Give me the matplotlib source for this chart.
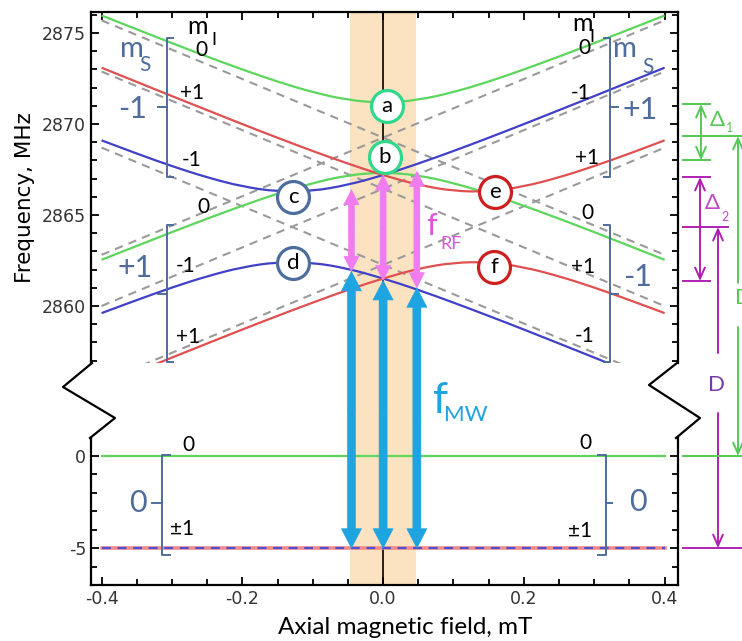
import matplotlib
matplotlib.use("Agg")
import matplotlib.pyplot as plt
import matplotlib.transforms as mtransforms
from matplotlib.lines import Line2D
from matplotlib.patches import FancyArrowPatch, PathPatch, Rectangle
from matplotlib.path import Path
from matplotlib.ticker import MultipleLocator

plt.rcParams["font.family"] = ["Lato", "DejaVu Sans"]
plt.rcParams["axes.unicode_minus"] = False

# ---- data ----
field = [-0.4, -0.35, -0.3, -0.25, -0.2, -0.15, -0.1, -0.05, 0.0,
         0.05, 0.1, 0.15, 0.2, 0.25, 0.3, 0.35, 0.4]
green_up = [2875.96, 2875.20, 2874.44, 2873.70, 2872.99, 2872.32, 2871.74, 2871.31, 2871.15,
            2871.31, 2871.74, 2872.32, 2872.99, 2873.70, 2874.44, 2875.20, 2875.96]
green_lo = [2862.54, 2863.30, 2864.06, 2864.80, 2865.51, 2866.18, 2866.76, 2867.19, 2867.35,
            2867.19, 2866.76, 2866.18, 2865.51, 2864.80, 2864.06, 2863.30, 2862.54]
blue_up = [2869.10, 2868.37, 2867.68, 2867.06, 2866.56, 2866.28, 2866.31, 2866.65, 2867.18,
           2867.82, 2868.51, 2869.24, 2869.99, 2870.76, 2871.53, 2872.31, 2873.09]
blue_lo = [2859.61, 2860.33, 2861.02, 2861.64, 2862.14, 2862.42, 2862.39, 2862.06, 2861.52,
           2860.89, 2860.19, 2859.46, 2858.71, 2857.94, 2857.17, 2856.39, 2855.61]
red_up = [2873.09, 2872.31, 2871.53, 2870.76, 2869.99, 2869.24, 2868.51, 2867.82, 2867.18,
          2866.65, 2866.31, 2866.28, 2866.56, 2867.06, 2867.68, 2868.37, 2869.10]
red_lo = [2855.61, 2856.39, 2857.17, 2857.94, 2858.71, 2859.46, 2860.19, 2860.89, 2861.52,
          2862.06, 2862.39, 2862.42, 2862.14, 2861.64, 2861.02, 2860.33, 2859.61]

# uncoupled levels (dashed), end points at -0.4 and 0.4 mT
ends = [-0.4, 0.4]
dashed_levels = [
    [2875.69, 2862.81], [2862.81, 2875.69],   # mI = 0
    [2868.70, 2855.82], [2860.00, 2872.88],   # mI = -1
    [2872.88, 2860.00], [2855.82, 2868.70],   # mI = +1
]

# ms = 0 levels (lower panel)
ms0_upper = [0, 0]
ms0_lower = [-5, -5]

# labelled anticrossings
circ_names = ["a", "b", "c", "d", "e", "f"]
circ_field = [0.005, 0.002, -0.128, -0.128, 0.159, 0.158]
circ_freq = [2871.0, 2868.2, 2866.0, 2862.35, 2866.26, 2862.14]
circ_colors = ["#2fd88a", "#2fd88a", "#4d6e9c", "#4d6e9c", "#cc2020", "#cc2020"]

# transitions
band_field = [-0.047, 0.047]
trans_field = [-0.045, 0.0, 0.048]
rf_top = [2866.4, 2867.2, 2867.4]
rf_bottom = [2861.9, 2861.4, 2861.0]
mw_bottom = [-5, -5, -5]

# right-hand scale marks
delta1 = [2871.1, 2868.0]
delta2 = [2867.09, 2861.37]
d_green = 2869.34
d_magenta = 2864.34

green = "#5cd65c"
red = "#e05050"
blue = "#4040c8"
grey = "#9a9a9a"
slate = "#4f6c9c"
band = "#fbe2c0"
pink = "#f07cf0"
cyan = "#1ea4e0"
dgreen = "#55c855"
magenta = "#b020b0"
tick_font = ["Liberation Sans Narrow", "DejaVu Sans"]

W, H = 742, 641
fig = plt.figure(figsize=(W / 100, H / 100), dpi=100)
ax_up = fig.add_axes([91 / W, 1 - 363 / H, 587 / W, 351 / H])
ax_lo = fig.add_axes([91 / W, 1 - 585 / H, 587 / W, 147 / H])

for ax in (ax_up, ax_lo):
    ax.set_xlim(-0.415, 0.419)
    ax.set_facecolor("none")
    ax.axvline(0, color="k", lw=1.2, zorder=1)
    ax.xaxis.set_major_locator(MultipleLocator(0.2))
    ax.xaxis.set_minor_locator(MultipleLocator(0.05))
    ax.yaxis.set_minor_locator(MultipleLocator(1))
    ax.tick_params(which="both", direction="in", width=1.3, right=True, labelsize=12.5,
                   labelcolor="#333333", labelfontfamily=tick_font)
    ax.tick_params(which="major", length=6)
    ax.tick_params(which="minor", length=4)
    for s in ax.spines.values():
        s.set_linewidth(1.6)

ax_up.set_ylim(2856.87, 2876.15)
ax_up.set_yticks([2860, 2865, 2870, 2875])
ax_up.spines["bottom"].set_visible(False)
ax_up.tick_params(which="both", top=True, bottom=False, labelbottom=False)

ax_lo.set_ylim(-7.0, 0.98)
ax_lo.set_yticks([0, -5])
ax_lo.spines["top"].set_visible(False)
ax_lo.set_xticks([-0.4, -0.2, 0.0, 0.2, 0.4])
ax_lo.set_xticklabels(["-0.4", "-0.2", "0.0", "0.2", "0.4"])

inv = fig.transFigure.inverted()


def to_fig(ax, x, y):
    return tuple(inv.transform(ax.transData.transform((x, y))))


def at_x(p, xpx):
    return (xpx / W, p[1])


# shaded field window, running through the axis break
b0 = to_fig(ax_lo, band_field[0], -7.0)
b1 = to_fig(ax_up, band_field[1], 2876.15)
fig.add_artist(Rectangle(b0, b1[0] - b0[0], b1[1] - b0[1], transform=fig.transFigure,
                         facecolor=band, lw=0, zorder=-1))


def smooth(ax, xs, ys, **kw):
    # quadratic bezier through midpoints, so the sampled curve is drawn smooth
    verts = [(xs[0], ys[0])]
    codes = [Path.MOVETO]
    for i in range(1, len(xs) - 1):
        verts += [(xs[i], ys[i]), ((xs[i] + xs[i + 1]) / 2, (ys[i] + ys[i + 1]) / 2)]
        codes += [Path.CURVE3, Path.CURVE3]
    verts.append((xs[-1], ys[-1]))
    codes.append(Path.LINETO)
    ax.add_patch(PathPatch(Path(verts, codes), fill=False, **kw))


# levels
for lv in dashed_levels:
    ax_up.plot(ends, lv, color=grey, lw=1.5, dashes=(4, 3), zorder=2)
for ys, c in [(green_up, green), (green_lo, green), (blue_up, blue), (blue_lo, blue),
              (red_up, red), (red_lo, red)]:
    smooth(ax_up, field, ys, edgecolor=c, lw=1.6, zorder=3)

ax_lo.plot(ends, ms0_upper, color=green, lw=1.6, zorder=3)
ax_lo.plot(ends, ms0_lower, color="#f08a8a", lw=2.6, zorder=3)
ax_lo.plot(ends, ms0_lower, color="#5050d0", lw=1.6, dashes=(4, 3), zorder=3)

# anticrossing markers
for name, x, y, c in zip(circ_names, circ_field, circ_freq, circ_colors):
    ax_up.plot(x, y, "o", ms=23, mfc="white", mec=c, mew=2.3, zorder=6)
    ax_up.text(x, y, name, ha="center", va="center", fontsize=16, zorder=7)


# brackets
def bracket(ax, x, y0, y1, ymid, side, serif, tick):
    ax.plot([x + side * serif, x, x, x + side * serif], [y0, y0, y1, y1],
            color=slate, lw=1.4, zorder=4, clip_on=False)
    ax.plot([x, x - side * tick], [ymid, ymid], color=slate, lw=1.4, zorder=4)


bracket(ax_up, -0.307, 2874.73, 2867.09, 2870.93, 1, 0.009, 0.013)
bracket(ax_up, -0.307, 2864.45, 2856.95, 2860.66, 1, 0.009, 0.013)
bracket(ax_up, 0.3224, 2874.73, 2867.09, 2870.93, -1, 0.009, 0.011)
bracket(ax_up, 0.3224, 2864.45, 2856.95, 2860.66, -1, 0.009, 0.011)
bracket(ax_lo, -0.314, 0.05, -5.38, -2.55, 1, 0.011, 0.014)
bracket(ax_lo, 0.3168, 0.05, -5.38, -2.55, -1, 0.011, 0.008)

# ms labels
ms_kw = dict(color=slate, ha="center", va="center", zorder=8)
ax_up.text(-0.3565, 2874.12, "m", fontsize=21, **ms_kw)
ax_up.text(-0.338, 2873.25, "S", fontsize=15, **ms_kw)
ax_up.text(-0.3565, 2870.8, "-1", fontsize=22, **ms_kw)
ax_up.text(-0.352, 2862.1, "+1", fontsize=22, **ms_kw)
ax_up.text(0.3438, 2874.12, "m", fontsize=21, **ms_kw)
ax_up.text(0.3756, 2873.15, "S", fontsize=15, **ms_kw)
ax_up.text(0.365, 2870.75, "+1", fontsize=22, **ms_kw)
ax_up.text(0.361, 2861.6, "-1", fontsize=22, **ms_kw)
ax_lo.text(-0.349, -2.55, "0", fontsize=22, **ms_kw)
ax_lo.text(0.362, -2.5, "0", fontsize=22, **ms_kw)

# mI labels
mi_kw = dict(color="k", ha="center", va="center", fontsize=15, zorder=8)
ax_up.text(-0.264, 2875.33, "m", **{**mi_kw, "fontsize": 18})
ax_up.text(-0.240, 2874.6, "I", **{**mi_kw, "fontsize": 13})
ax_up.text(0.2827, 2875.5, "m", **{**mi_kw, "fontsize": 18})
ax_up.text(0.297, 2874.75, "I", **{**mi_kw, "fontsize": 13})
for x, y, t in [(-0.2585, 2874.07, "0"), (-0.271, 2871.7, "+1"), (-0.2727, 2868.02, "-1"),
                (-0.2557, 2865.44, "0"), (-0.28, 2862.2, "-1"), (-0.277, 2858.3, "+1"),
                (0.2855, 2874.18, "0"), (0.281, 2871.7, "-1"), (0.29, 2868.13, "+1"),
                (0.291, 2865.11, "0"), (0.284, 2862.14, "+1"), (0.287, 2858.35, "-1")]:
    ax_up.text(x, y, t, **mi_kw)
for x, y, t in [(-0.277, 0.6, "0"), (-0.2855, -3.97, "±1"), (0.287, 0.7, "0"), (0.28, -4.08, "±1")]:
    ax_lo.text(x, y, t, **mi_kw)

# f_RF label
ax_up.text(0.0696, 2864.4, "f", color="#dd55dd", fontsize=22, ha="center", va="center")
ax_up.text(0.0966, 2863.4, "RF", color="#dd55dd", fontsize=13, ha="center", va="center")


def fat_arrow(p0, p1, color, tail, hw, hl):
    mid = ((p0[0] + p1[0]) / 2, (p0[1] + p1[1]) / 2)
    for p in (p0, p1):
        fig.add_artist(FancyArrowPatch(
            mid, p, transform=fig.transFigure, mutation_scale=1,
            arrowstyle=f"simple,head_length={hl},head_width={hw},tail_width={tail}",
            color=color, lw=0.4, shrinkA=0, shrinkB=0, zorder=5))


for x, t, b, m in zip(trans_field, rf_top, rf_bottom, mw_bottom):
    fat_arrow(to_fig(ax_up, x, t), to_fig(ax_up, x, b), pink, 4.3, 11, 11)
    fat_arrow(to_fig(ax_up, x, b), to_fig(ax_lo, x, m), cyan, 5.8, 14.5, 14)

fig.text(440 / W, 1 - 401 / H, "f", color=cyan, fontsize=31, ha="center", va="center")
fig.text(466 / W, 1 - 415 / H, "MW", color=cyan, fontsize=16, ha="center", va="center")

# axis breaks
fig.add_artist(Line2D([92 / W, 63 / W, 115 / W, 90 / W],
                      [1 - 363 / H, 1 - 387 / H, 1 - 418 / H, 1 - 438 / H],
                      transform=fig.transFigure, color="k", lw=1.6))
fig.add_artist(Line2D([677 / W, 649 / W, 700 / W, 676 / W],
                      [1 - 363 / H, 1 - 385 / H, 1 - 418 / H, 1 - 438 / H],
                      transform=fig.transFigure, color="k", lw=1.6))

# right-hand scale
tr_up = mtransforms.blended_transform_factory(fig.transFigure, ax_up.transData)
tr_lo = mtransforms.blended_transform_factory(fig.transFigure, ax_lo.transData)


def hline(tr, y, x1, color):
    fig.add_artist(Line2D([683 / W, x1 / W], [y, y], transform=tr, color=color, lw=1.4))


def thin(p0, p1, color, style):
    fig.add_artist(FancyArrowPatch(p0, p1, transform=fig.transFigure, mutation_scale=10,
                                   arrowstyle=style + ",head_length=0.8,head_width=0.35",
                                   color=color, lw=1.4, shrinkA=0, shrinkB=0))


hline(tr_up, delta1[0], 710, dgreen)
hline(tr_up, d_green, 742, dgreen)
hline(tr_up, delta1[1], 710, dgreen)
hline(tr_lo, 0, 742, dgreen)
hline(tr_up, delta2[0], 710, magenta)
hline(tr_up, d_magenta, 728, magenta)
hline(tr_up, delta2[1], 710, magenta)
hline(tr_lo, -5, 742, magenta)

thin(at_x(to_fig(ax_up, 0, delta1[0]), 701), at_x(to_fig(ax_up, 0, delta1[1]), 701), dgreen, "<->")
thin(at_x(to_fig(ax_up, 0, delta2[0]), 700), at_x(to_fig(ax_up, 0, delta2[1]), 700), magenta, "<->")
thin(at_x(to_fig(ax_up, 0, d_green), 738), (738 / W, 1 - 283 / H), dgreen, "<-")
thin((738 / W, 1 - 327 / H), at_x(to_fig(ax_lo, 0, 0), 738), dgreen, "->")
thin(at_x(to_fig(ax_up, 0, d_magenta), 718), (718 / W, 1 - 353 / H), magenta, "<-")
thin((718 / W, 1 - 413 / H), at_x(to_fig(ax_lo, 0, -5), 718), magenta, "->")

fig.text(717 / W, 1 - 120 / H, "Δ", color=dgreen, fontsize=16, ha="center", va="center")
fig.text(730 / W, 1 - 128 / H, "1", color=dgreen, fontsize=9, ha="center", va="center")
fig.text(712 / W, 1 - 203 / H, "Δ", color="#c048c0", fontsize=16, ha="center", va="center")
fig.text(725 / W, 1 - 217 / H, "2", color="#c048c0", fontsize=9, ha="center", va="center")
fig.text(717 / W, 1 - 385 / H, "D", color="#7a3aa8", fontsize=16, ha="center", va="center")
fig.text(735 / W, 1 - 298 / H, "D", color=dgreen, fontsize=16, ha="left", va="center")

fig.text(25 / W, 1 - 198 / H, "Frequency, MHz", rotation=90, fontsize=15.5,
         family=["DejaVu Sans"], ha="center", va="center")
fig.text(405 / W, 1 - 627 / H, "Axial magnetic field, mT", fontsize=17.5, ha="center", va="center")

fig.savefig("out.png", dpi=100)
